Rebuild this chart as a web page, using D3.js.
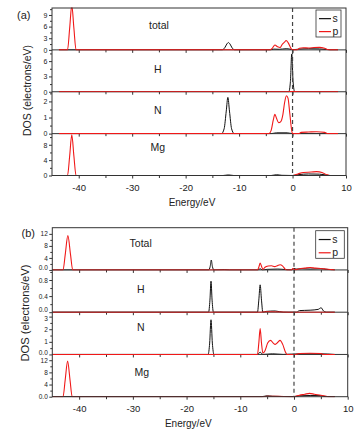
<!DOCTYPE html>
<html>
<head>
<meta charset="utf-8">
<script src="https://cdn.jsdelivr.net/npm/d3@7"></script>
<style>
  body { margin: 0; background: #fff; }
  text { font-family: "Liberation Sans", Arial, sans-serif; fill: #222; }
</style>
</head>
<body>
<div id="chart"></div>
<script>
// ---- data: [energy (eV), DOS] ----
const xTickLabels = [-40, -30, -20, -10, 0, 10];
const xMinorTicks = [-45, -35, -25, -15, -5, 5];

const aNames = ["total", "H", "N", "Mg"];
const aYMax = [10.8, 8.2, 2.6, 10.9];
const aTicks = [[0, 3, 6, 9], [0, 3, 6], [0, 1, 2], [0, 4, 8]];
const aMinor = [[1.5, 4.5, 7.5, 10.5], [1.5, 4.5, 7.5], [0.5, 1.5, 2.5], [2, 6, 10]];

const aTotalS = [[-43.7,0],[-13.2,0],[-12.7,0.5],[-12.3,1.5],[-12.0,1.9],[-11.7,1.5],[-11.3,0.5],[-10.8,0],
  [-4.2,0],[-3.5,0.2],[-2.5,0.15],[-1.2,0.3],[-0.5,0.2],[0,0.05],[1.3,0.2],[3,0.3],[5,0.25],[6.4,0.1],[7,0],[8.5,0]];
const aTotalP = [[-43.7,0],[-42.1,0],[-41.7,5.5],[-41.3,11.5],[-40.9,5.5],[-40.5,0],[-4.2,0],[-3.8,0.4],[-3.3,1.25],
  [-2.8,0.8],[-2.35,0.6],[-1.9,1.5],[-1.5,2.0],[-1.2,2.4],[-0.8,1.8],[-0.3,0.4],[0,0],[0.8,0],[1.3,0.4],[2,0.55],
  [3,0.5],[4,0.6],[5,0.65],[6,0.4],[6.5,0.1],[7,0],[8.5,0]];
const aHS = [[-43.7,0],[-0.7,0],[-0.4,2],[-0.15,7.4],[0.1,2],[0.4,0],[8.5,0]];
const aHP = [[-43.7,0],[-1,0],[0,0.05],[1,0],[8.5,0]];
const aNS = [[-43.7,0],[-13.3,0],[-12.8,0.3],[-12.4,1.4],[-12.1,2.25],[-11.8,1.4],[-11.4,0.3],[-10.9,0],
  [-4,0],[-3,0.05],[-1,0.05],[0,0],[8.5,0]];
const aNP = [[-43.7,0],[-4.4,0],[-4.0,0.2],[-3.6,0.85],[-3.3,1.2],[-3.0,0.95],[-2.6,0.68],[-2.2,0.75],[-1.8,1.2],
  [-1.5,1.9],[-1.15,2.35],[-0.85,2.2],[-0.5,1.2],[-0.2,0.3],[0,0],[1.2,0],[1.6,0.08],[3,0.1],[4.5,0.12],[6,0.08],
  [6.6,0],[8.5,0]];
const aMgS = [[-43.7,0],[-13,0],[-12,0.15],[-11,0],[-4,0],[-3,0.2],[-2,0.05],[0,0],[1,0.2],[3,0.4],[5,0.35],
  [6.4,0.1],[7,0],[8.5,0]];
const aMgP = [[-43.7,0],[-42.1,0],[-41.7,5],[-41.3,10.6],[-40.9,5],[-40.5,0],[-3,0],[0,0],[1,0.4],[2,0.8],
  [3.5,0.9],[4.5,1.0],[5.5,0.8],[6.4,0.2],[7,0],[8.5,0]];

const bNames = ["Total", "H", "N", "Mg"];
const bYMax = [14.05, 1.05, 3.35, 13.9];
const bTicks = [[0, 4, 8, 12], [0, 0.4, 0.8], [0, 1, 2, 3], [0, 4, 8, 12]];
const bMinor = [[2, 6, 10], [0.2, 0.6, 1.0], [0.5, 1.5, 2.5], [2, 6, 10]];

const bTotalS = [[-45,0],[-15.9,0],[-15.6,1.2],[-15.4,3.3],[-15.2,1.2],[-14.9,0],[-13,0.1],[-12,0],[-6.7,0],
  [-6.3,0.4],[-5.9,0],[-5,0.2],[-3,0.3],[-1.5,0.1],[-0.5,0],[0,0.5],[0.5,0.3],[1.5,0.4],[3,0.3],[5,0.4],
  [6,0.2],[7.6,0]];
const bTotalP = [[-45,0],[-43,0],[-42.6,5],[-42.1,11.4],[-41.6,5],[-41.2,0],[-6.8,0],[-6.5,1.2],[-6.3,2.3],
  [-6.0,1.0],[-5.8,0.2],[-5.4,0.9],[-4.8,1.3],[-4.2,1.4],[-3.6,1.1],[-3.1,1.4],[-2.6,1.75],[-2.1,1.3],
  [-1.6,0.2],[-1.3,0],[-0.5,0],[-0.2,0.5],[0.2,0.1],[1,0.4],[2,0.6],[3,0.8],[4,0.6],[5,0.5],[6,0.3],[7,0.1],[7.6,0]];
const bHS = [[-45,0],[-15.9,0],[-15.65,0.3],[-15.45,0.77],[-15.25,0.3],[-15.0,0],[-6.8,0],[-6.55,0.3],
  [-6.3,0.68],[-6.05,0.3],[-5.8,0],[-5.2,0.02],[-3.5,0.03],[-2,0],[0.5,0],[1,0.04],[3,0.05],[4.5,0.07],
  [5.05,0.11],[5.5,0.03],[6,0],[7.6,0]];
const bHP = [[-45,0],[-6.5,0],[-5,0.01],[0,0],[7.6,0]];
const bNS = [[-45,0],[-16,0],[-15.7,0.9],[-15.45,2.75],[-15.2,0.9],[-14.9,0],[-6.8,0],[-6.3,0.18],[-5.8,0],
  [-4,0.05],[-2,0],[1,0.05],[5,0.05],[7.6,0]];
const bNP = [[-45,0],[-6.8,0],[-6.55,0.9],[-6.3,2.05],[-6.05,0.9],[-5.8,0.12],[-5.4,0.3],[-4.9,0.9],
  [-4.35,1.12],[-3.9,0.92],[-3.5,0.8],[-3.0,0.97],[-2.6,1.12],[-2.1,0.8],[-1.6,0.2],[-1.3,0],[0.3,0],
  [1,0.08],[3,0.1],[5,0.08],[5.5,0],[7.6,0]];
const bMgS = [[-45,0],[-6,0],[-5,0.3],[-4,0.15],[-2,0.05],[0,0],[1,0.3],[3,0.4],[5,0.35],[5.8,0.05],[7.6,0]];
const bMgP = [[-45,0],[-43,0],[-42.6,5.5],[-42.15,11.7],[-41.7,5.5],[-41.3,0],[-6,0],[-5,0.15],[-3,0.1],
  [0,0],[1,0.5],[2,0.8],[2.9,1.1],[3.8,0.8],[5,0.5],[6,0.15],[6.5,0],[7.6,0]];

// ---- layout ----
const W = 363, H = 435;
const xDomain = [-45, 10];
const colS = "#111", colP = "#f01818", frameCol = "#333";
const plainInt = v => String(v);   // plain hyphen, like the original

const svg = d3.select("#chart").append("svg")
  .attr("width", W).attr("height", H);

function drawFigure(fig) {
  const x = d3.scaleLinear().domain(xDomain).range([fig.left, fig.right]);
  const ph = (fig.bottom - fig.top) / 4;
  const root = svg.append("g").attr("class", "fig-" + fig.id);

  fig.names.forEach(function(name, i) {
    const yTop = fig.top + i * ph, yBot = yTop + ph;
    const y = d3.scaleLinear().domain([0, fig.ymax[i]]).range([yBot, yTop]);
    const clipId = "clip-" + fig.id + i;

    root.append("clipPath").attr("id", clipId)
      .append("rect").attr("x", fig.left).attr("y", yTop - 0.5)
      .attr("width", fig.right - fig.left).attr("height", ph + 1);

    const line = d3.line()
      .x(d => x(d[0])).y(d => y(d[1]))
      .curve(d3.curveMonotoneX);

    const g = root.append("g").attr("clip-path", "url(#" + clipId + ")");
    g.append("path").datum(fig.s[i])
      .attr("d", line).attr("fill", "none")
      .attr("stroke", colS).attr("stroke-width", 1);

    // y axis, major + minor
    const yAx = root.append("g").attr("transform", "translate(" + fig.left + ",0)")
      .call(d3.axisLeft(y).tickValues(fig.ticks[i]).tickSize(3).tickPadding(1.5)
        .tickFormat(fig.fmt));
    yAx.select(".domain").remove();
    yAx.selectAll("line").attr("stroke", frameCol);
    yAx.selectAll("text").attr("font-size", fig.ytFont)
      .attr("font-family", "Liberation Sans, Arial, sans-serif").attr("fill", "#333");
    if (fig.nudge) {
      // crowded labels where two panels meet
      const tks = fig.ticks[i];
      yAx.selectAll("text")
        .attr("transform", d => (d === 0 && i < 3) ? "translate(0,-2.5)"
          : (d === tks[tks.length - 1] && i > 0 && y(d) - yTop < 5) ? "translate(0,1.5)" : null);
    }
    const yMin = root.append("g").attr("transform", "translate(" + fig.left + ",0)")
      .call(d3.axisLeft(y).tickValues(fig.minor[i]).tickSize(2).tickFormat(""));
    yMin.select(".domain").remove();
    yMin.selectAll("line").attr("stroke", frameCol);

    // x ticks under every panel
    const xAx = root.append("g").attr("transform", "translate(0," + yBot + ")")
      .call(d3.axisBottom(x).tickValues(xTickLabels).tickSize(3)
        .tickFormat(i === 3 ? plainInt : ""));
    xAx.select(".domain").remove();
    xAx.selectAll("line").attr("stroke", frameCol);
    xAx.selectAll("text").attr("font-size", 9.5).attr("dy", "0.95em")
      .attr("font-family", "Liberation Sans, Arial, sans-serif").attr("fill", "#222");
    const xMin = root.append("g").attr("transform", "translate(0," + yBot + ")")
      .call(d3.axisBottom(x).tickValues(xMinorTicks.filter(v => v > xDomain[0])).tickSize(2.5).tickFormat(""));
    xMin.select(".domain").remove();
    xMin.selectAll("line").attr("stroke", frameCol);

    // panel name
    root.append("text")
      .attr("x", fig.labelX[i]).attr("y", yTop + fig.labelDy[i])
      .attr("text-anchor", "middle").attr("font-size", 10.5)
      .text(name);

    // separator
    if (i < 3) {
      root.append("line")
        .attr("x1", fig.left).attr("x2", fig.right)
        .attr("y1", yBot).attr("y2", yBot)
        .attr("stroke", frameCol).attr("stroke-width", 1);
    }
  });

  // p curves last so the red baselines lie over the separators
  fig.names.forEach(function(name, i) {
    const yTop = fig.top + i * ph, yBot = yTop + ph;
    const y = d3.scaleLinear().domain([0, fig.ymax[i]]).range([yBot, yTop]);
    const line = d3.line().x(d => x(d[0])).y(d => y(d[1])).curve(d3.curveMonotoneX);
    root.append("path").datum(fig.p[i])
      .attr("d", line).attr("fill", "none")
      .attr("clip-path", "url(#clip-" + fig.id + i + ")")
      .attr("stroke", colP).attr("stroke-width", 1.1);
  });

  // frame
  root.append("rect")
    .attr("x", fig.left).attr("y", fig.top)
    .attr("width", fig.right - fig.left).attr("height", fig.bottom - fig.top)
    .attr("fill", "none").attr("stroke", frameCol).attr("stroke-width", 1);

  // Fermi level
  root.append("line")
    .attr("x1", x(0)).attr("x2", x(0))
    .attr("y1", fig.top).attr("y2", fig.bottom)
    .attr("stroke", "#444").attr("stroke-width", 1.2)
    .attr("stroke-dasharray", "4,3");

  // legend
  const lg = root.append("g");
  lg.append("rect")
    .attr("x", fig.legend[0]).attr("y", fig.legend[1])
    .attr("width", fig.legend[2]).attr("height", fig.legend[3])
    .attr("fill", "#fff").attr("stroke", frameCol).attr("stroke-width", 0.8);
  [["s", colS], ["p", colP]].forEach(function(d, k) {
    const ly = fig.legend[1] + fig.legend[3] * (k === 0 ? 0.32 : 0.8);
    lg.append("line")
      .attr("x1", fig.legend[0] + 3).attr("x2", fig.legend[0] + 15)
      .attr("y1", ly).attr("y2", ly)
      .attr("stroke", d[1]).attr("stroke-width", 1.2);
    lg.append("text")
      .attr("x", fig.legend[0] + 16.5).attr("y", ly + 3.2)
      .attr("font-size", 10.5).text(d[0]);
  });

  // axis titles
  root.append("text")
    .attr("x", fig.xTitle[0]).attr("y", fig.xTitle[1])
    .attr("text-anchor", "middle").attr("font-size", 10)
    .text("Energy/eV");
  root.append("text")
    .attr("transform", "translate(" + fig.yTitle[0] + "," + fig.yTitle[1] + ") rotate(-90)")
    .attr("text-anchor", "middle").attr("font-size", fig.yTitle[2])
    .text("DOS (electrons/eV)");
  root.append("text")
    .attr("x", fig.tag[0]).attr("y", fig.tag[1])
    .attr("font-size", 11).text("(" + fig.id + ")");
}

drawFigure({
  id: "a", left: 52, right: 346, top: 8, bottom: 175.5,
  names: aNames, ymax: aYMax, ticks: aTicks, minor: aMinor,
  s: [aTotalS, aHS, aNS, aMgS], p: [aTotalP, aHP, aNP, aMgP],
  fmt: plainInt, ytFont: 7, nudge: false,
  labelX: [159, 157.7, 157.7, 157.7], labelDy: [21, 23.3, 22, 17],
  legend: [316, 10, 25, 27],
  xTitle: [192, 206], yTitle: [31, 90.5, 10.5], tag: [17, 19]
});

drawFigure({
  id: "b", left: 52.3, right: 347.7, top: 227.7, bottom: 396.7,
  names: bNames, ymax: bYMax, ticks: bTicks, minor: bMinor,
  s: [bTotalS, bHS, bNS, bMgS], p: [bTotalP, bHP, bNP, bMgP],
  fmt: v => (Number.isInteger(v) && v > 0.9 ? String(v) : d3.format(".1f")(v)), ytFont: 6.5, nudge: true,
  labelX: [140.7, 140.7, 140.7, 141.7], labelDy: [19, 23, 18.3, 21.7],
  legend: [315.7, 230.7, 28.6, 27.6],
  xTitle: [188.3, 426.5], yTitle: [28.5, 313, 11.2], tag: [21.5, 237]
});
</script>
</body>
</html>
